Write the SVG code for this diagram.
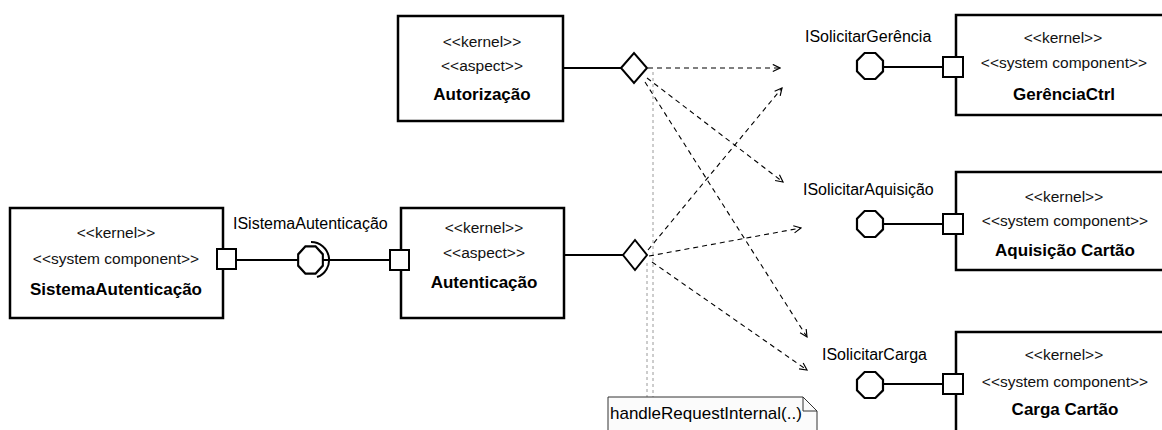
<svg xmlns="http://www.w3.org/2000/svg" width="1162" height="430" viewBox="0 0 1162 430">
  <style>
    .box { fill: #fff; stroke: #000; stroke-width: 2.5; }
    .port { fill: #fff; stroke: #000; stroke-width: 2; }
    .iface { fill: #fff; stroke: #000; stroke-width: 2.2; }
    .wire { stroke: #000; stroke-width: 2; fill: none; }
    .dep { stroke: #000; stroke-width: 1.1; fill: none; stroke-dasharray: 5 4; marker-end: url(#open); }
    .trace { stroke: #9a9a9a; stroke-width: 1; fill: none; stroke-dasharray: 3 3; }
    .st { font-family: "Liberation Sans", Arial, sans-serif; font-size: 15.5px; text-anchor: middle; fill: #111; }
    .nm { font-family: "Liberation Sans", Arial, sans-serif; font-size: 17px; font-weight: bold; text-anchor: middle; fill: #000; }
    .lb { font-family: "Liberation Sans", Arial, sans-serif; font-size: 16px; fill: #000; }
    .note { fill: #fbfbfb; stroke: #333; stroke-width: 1; }
  </style>
  <defs>
    <marker id="open" viewBox="0 0 10 10" refX="9" refY="5" markerWidth="9" markerHeight="9" markerUnits="userSpaceOnUse" orient="auto">
      <path d="M1,1 L9,5 L1,9" fill="none" stroke="#000" stroke-width="1.3"/>
    </marker>
    <polygon id="oct" points="13,5.4 5.4,13 -5.4,13 -13,5.4 -13,-5.4 -5.4,-13 5.4,-13 13,-5.4"/>
  </defs>

  <rect width="1162" height="430" fill="#fff"/>

  <!-- connectors -->
  <g id="connectors">
    <!-- assembly SistemaAutenticacao - Autenticacao -->
    <line class="wire" x1="237" y1="260" x2="298" y2="260"/>
    <line class="wire" x1="323" y1="260" x2="390" y2="260"/>
    <!-- aspect weaving links -->
    <line class="wire" x1="563" y1="68" x2="621" y2="68"/>
    <line class="wire" x1="564" y1="255" x2="623" y2="255"/>
    <!-- provided interfaces -->
    <line class="wire" x1="883" y1="67" x2="943" y2="67"/>
    <line class="wire" x1="883" y1="224" x2="943" y2="224"/>
    <line class="wire" x1="883" y1="384" x2="943" y2="384"/>
    <!-- crosscutting dependencies from Autorizacao -->
    <line class="dep" x1="648" y1="68" x2="780" y2="68"/>
    <line class="dep" x1="647" y1="78" x2="783" y2="182"/>
    <line class="dep" x1="645" y1="82" x2="807" y2="337"/>
    <!-- crosscutting dependencies from Autenticacao -->
    <line class="dep" x1="648" y1="250" x2="782" y2="88"/>
    <line class="dep" x1="649" y1="256" x2="801" y2="228"/>
    <line class="dep" x1="652" y1="262" x2="807" y2="370"/>
    <!-- traces to the pointcut note -->
    <line class="trace" x1="653" y1="72" x2="653" y2="397"/>
    <line class="trace" x1="647" y1="263" x2="647" y2="397"/>
  </g>

  <!-- SistemaAutenticacao -->
  <g id="sistema-autenticacao">
    <rect class="box" x="10" y="208" width="213" height="110"/>
    <text class="st" x="116" y="238">&lt;&lt;kernel&gt;&gt;</text>
    <text class="st" x="116" y="264">&lt;&lt;system component&gt;&gt;</text>
    <text class="nm" x="116" y="295">SistemaAutenticação</text>
    <rect class="port" x="217" y="249" width="19" height="20"/>
  </g>

  <!-- required/provided interface ISistemaAutenticacao -->
  <g id="i-sistema-autenticacao">
    <use href="#oct" class="iface" transform="translate(310.5,260) scale(0.95,1.05)"/>
    <path class="wire" d="M311,242 A18,18 0 0 1 317,277" stroke-width="2.6"/>
    <text class="lb" x="233" y="229">ISistemaAutenticação</text>
  </g>

  <!-- Autorizacao -->
  <g id="autorizacao">
    <rect class="box" x="398" y="16" width="165" height="105"/>
    <text class="st" x="482" y="47">&lt;&lt;kernel&gt;&gt;</text>
    <text class="st" x="482" y="71">&lt;&lt;aspect&gt;&gt;</text>
    <text class="nm" x="482" y="100">Autorização</text>
    <polygon class="port" points="621,68 634,53 647,68 634,83"/>
  </g>

  <!-- Autenticacao -->
  <g id="autenticacao">
    <rect class="box" x="401" y="208" width="163" height="110"/>
    <text class="st" x="484" y="233">&lt;&lt;kernel&gt;&gt;</text>
    <text class="st" x="484" y="258">&lt;&lt;aspect&gt;&gt;</text>
    <text class="nm" x="484" y="288">Autenticação</text>
    <rect class="port" x="390" y="250" width="19" height="20"/>
    <polygon class="port" points="623,255 635,240 647,255 635,270"/>
  </g>

  <!-- GerenciaCtrl -->
  <g id="gerencia-ctrl">
    <rect class="box" x="956" y="15" width="220" height="100"/>
    <text class="st" x="1063" y="43">&lt;&lt;kernel&gt;&gt;</text>
    <text class="st" x="1064" y="68">&lt;&lt;system component&gt;&gt;</text>
    <text class="nm" x="1064" y="100">GerênciaCtrl</text>
    <rect class="port" x="943" y="57" width="20" height="20"/>
    <use href="#oct" class="iface" transform="translate(870,66)"/>
    <text class="lb" x="805" y="42">ISolicitarGerência</text>
  </g>

  <!-- Aquisicao Cartao -->
  <g id="aquisicao-cartao">
    <rect class="box" x="956" y="172" width="220" height="98"/>
    <text class="st" x="1064" y="202">&lt;&lt;kernel&gt;&gt;</text>
    <text class="st" x="1065" y="226">&lt;&lt;system component&gt;&gt;</text>
    <text class="nm" x="1065" y="256">Aquisição Cartão</text>
    <rect class="port" x="943" y="214" width="20" height="20"/>
    <use href="#oct" class="iface" transform="translate(870,224)"/>
    <text class="lb" x="803" y="195">ISolicitarAquisição</text>
  </g>

  <!-- Carga Cartao -->
  <g id="carga-cartao">
    <rect class="box" x="956" y="332" width="220" height="110"/>
    <text class="st" x="1064" y="360">&lt;&lt;kernel&gt;&gt;</text>
    <text class="st" x="1065" y="387">&lt;&lt;system component&gt;&gt;</text>
    <text class="nm" x="1065" y="415">Carga Cartão</text>
    <rect class="port" x="943" y="374" width="20" height="20"/>
    <use href="#oct" class="iface" transform="translate(870,385)"/>
    <text class="lb" x="822" y="360">ISolicitarCarga</text>
  </g>

  <!-- pointcut note -->
  <g id="note-handle-request">
    <path class="note" d="M608,397 L803,397 L817,411 L817,440 L608,440 Z"/>
    <path d="M803,397 L803,411 L817,411" fill="none" stroke="#333" stroke-width="1"/>
    <text class="lb" x="610" y="419" style="font-size:17px">handleRequestInternal(..)</text>
  </g>
</svg>
